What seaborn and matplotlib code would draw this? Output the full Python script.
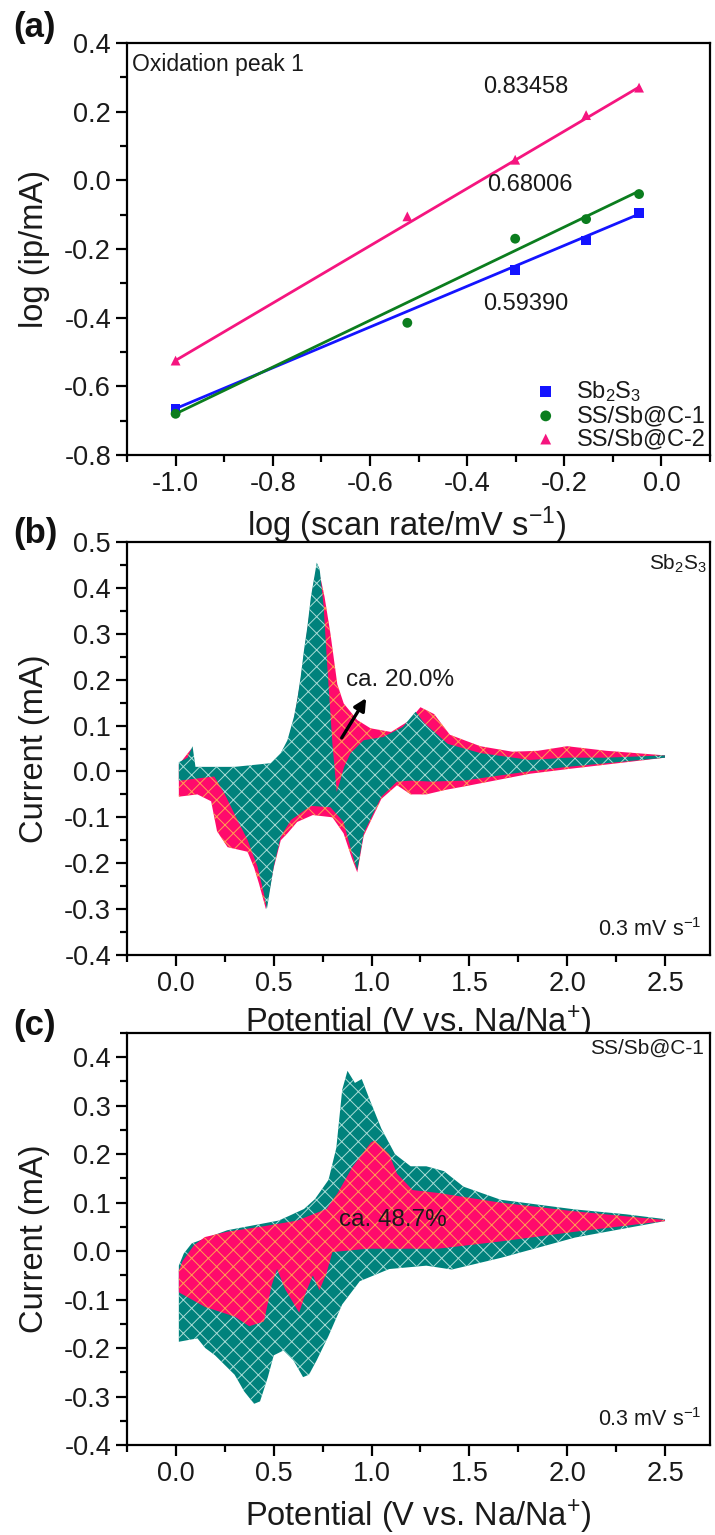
import numpy as np
import pandas as pd
import matplotlib
matplotlib.use("Agg")
import matplotlib.pyplot as plt
import seaborn as sns

# ---------------- data ----------------
# (a) log(ip) vs log(scan rate)
log_rate = [-1.0, -0.523, -0.301, -0.155, -0.046]
sb2s3_x = [-1.0, -0.301, -0.155, -0.046]
sb2s3_y = [-0.665, -0.262, -0.175, -0.095]
c1_y = [-0.68, -0.415, -0.17, -0.113, -0.04]
c2_y = [-0.525, -0.105, 0.06, 0.19, 0.27]
fit_slopes = [0.59390, 0.68006, 0.83458]
fit_intercepts = [-0.071, 0.0, 0.31]
fit_range = [-1.0, -0.046]
slope_labels = ["0.59390", "0.68006", "0.83458"]

# (b) Sb2S3 CV at 0.3 mV/s: total (pink) and capacitive (teal)
b_pink_up_v = [0.015, 0.08, 0.1, 0.3, 0.48, 0.536, 0.57, 0.604, 0.638, 0.672, 0.70, 0.72, 0.74, 0.76, 0.79,
               0.825, 0.858, 0.927, 0.995, 1.10, 1.19, 1.25, 1.32, 1.40, 1.556, 1.72, 1.85, 2.0, 2.2, 2.5]
b_pink_up_i = [0.015, 0.05, 0.0, 0.005, 0.015, 0.035, 0.063, 0.115, 0.2, 0.31, 0.40, 0.445, 0.42, 0.38, 0.30,
               0.19, 0.148, 0.112, 0.094, 0.086, 0.11, 0.14, 0.125, 0.08, 0.055, 0.043, 0.045, 0.055, 0.045, 0.035]
b_pink_lo_v = [0.015, 0.11, 0.18, 0.21, 0.264, 0.366, 0.40, 0.425, 0.46, 0.50, 0.536, 0.57, 0.62, 0.70, 0.80,
               0.857, 0.90, 0.927, 0.96, 1.05, 1.13, 1.20, 1.28, 1.38, 1.47, 1.81, 2.0, 2.5]
b_pink_lo_i = [-0.055, -0.05, -0.065, -0.13, -0.165, -0.175, -0.21, -0.245, -0.30, -0.21, -0.15, -0.135, -0.11,
               -0.095, -0.10, -0.135, -0.19, -0.22, -0.14, -0.06, -0.03, -0.05, -0.05, -0.04, -0.033, -0.005, 0.005, 0.03]
b_teal_up_v = [0.015, 0.06, 0.085, 0.1, 0.3, 0.485, 0.536, 0.57, 0.604, 0.62, 0.638, 0.655, 0.672, 0.69, 0.72,
               0.735, 0.755, 0.775, 0.80, 0.822, 0.84, 0.86, 0.893, 0.96, 1.06, 1.16, 1.225, 1.27, 1.39, 1.556,
               1.81, 2.0, 2.2, 2.5]
b_teal_up_i = [0.02, 0.03, 0.055, 0.01, 0.01, 0.018, 0.04, 0.068, 0.12, 0.156, 0.207, 0.265, 0.315, 0.38, 0.455,
               0.44, 0.36, 0.22, 0.06, -0.045, -0.02, 0.01, 0.04, 0.068, 0.075, 0.097, 0.13, 0.105, 0.06, 0.04,
               0.025, 0.03, 0.03, 0.035]
b_teal_lo_v = [0.015, 0.196, 0.247, 0.315, 0.366, 0.417, 0.45, 0.465, 0.50, 0.536, 0.587, 0.69, 0.79, 0.857,
               0.90, 0.927, 0.96, 1.05, 1.13, 1.20, 1.30, 1.47, 1.80, 2.0, 2.5]
b_teal_lo_i = [-0.02, -0.011, -0.047, -0.106, -0.149, -0.207, -0.266, -0.30, -0.207, -0.142, -0.106, -0.075,
               -0.078, -0.11, -0.178, -0.215, -0.134, -0.055, -0.022, -0.02, -0.022, -0.02, 0.0, 0.01, 0.03]

# (c) SS/Sb@C-1 CV at 0.3 mV/s: total (teal) and capacitive (pink)
c_teal_up_v = [0.015, 0.04, 0.081, 0.262, 0.525, 0.58, 0.655, 0.71, 0.78, 0.82, 0.85, 0.877, 0.915, 0.95,
               0.99, 1.05, 1.12, 1.20, 1.28, 1.37, 1.47, 1.66, 2.04, 2.3, 2.5]
c_teal_up_i = [-0.03, -0.005, 0.016, 0.043, 0.063, 0.073, 0.087, 0.107, 0.147, 0.213, 0.333, 0.372, 0.347,
               0.355, 0.313, 0.253, 0.20, 0.175, 0.175, 0.165, 0.133, 0.106, 0.086, 0.076, 0.066]
c_teal_lo_v = [0.015, 0.11, 0.15, 0.2, 0.25, 0.3, 0.35, 0.4, 0.43, 0.47, 0.5, 0.55, 0.6, 0.65, 0.68, 0.72,
               0.78, 0.85, 0.94, 1.09, 1.28, 1.41, 1.66, 2.04, 2.5]
c_teal_lo_i = [-0.187, -0.18, -0.2, -0.215, -0.235, -0.255, -0.29, -0.315, -0.31, -0.26, -0.215, -0.205,
               -0.225, -0.26, -0.255, -0.225, -0.175, -0.11, -0.062, -0.037, -0.03, -0.038, -0.014, 0.028, 0.062]
c_pink_up_v = [0.015, 0.035, 0.092, 0.148, 0.262, 0.43, 0.62, 0.77, 0.827, 0.903, 0.997, 1.015, 1.09, 1.13,
               1.21, 1.34, 1.66, 2.04, 2.5]
c_pink_up_i = [-0.04, -0.02, 0.012, 0.029, 0.04, 0.05, 0.063, 0.087, 0.12, 0.174, 0.224, 0.228, 0.20, 0.16,
               0.126, 0.12, 0.1, 0.082, 0.064]
c_pink_lo_v = [0.015, 0.148, 0.30, 0.375, 0.45, 0.49, 0.517, 0.56, 0.63, 0.66, 0.70, 0.734, 0.77, 0.80, 0.98,
               1.34, 1.66, 2.04, 2.5]
c_pink_lo_i = [-0.085, -0.115, -0.135, -0.155, -0.145, -0.07, -0.037, -0.08, -0.127, -0.09, -0.05, -0.081,
               -0.045, -0.002, 0.005, 0.005, 0.02, 0.04, 0.062]

# ---------------- style ----------------
sns.set_theme(style="ticks")
plt.rcParams["font.family"] = ["Liberation Sans", "DejaVu Sans"]
plt.rcParams["mathtext.fontset"] = "custom"
plt.rcParams["mathtext.rm"] = "Liberation Sans"
plt.rcParams["mathtext.it"] = "Liberation Sans:italic"
plt.rcParams["hatch.linewidth"] = 0.7
plt.rcParams["axes.linewidth"] = 1.6

TXT = "#1a1a1a"
BLUE = "#1414ff"
GREEN = "#0b7d1e"
PINK = "#f5157f"
TEAL = "#00827c"
HOTPINK = "#ff0a6c"
TICK_FS = 19.5
LABEL_FS = 23.5

fig = plt.figure(figsize=(7.15, 15.35), dpi=100)
W = 715.0
H = 1535.0

def make_ax(top_px, bot_px, left_px=127, right_px=710):
    return fig.add_axes([left_px / W, 1 - bot_px / H, (right_px - left_px) / W, (bot_px - top_px) / H])

ax_a = make_ax(43, 455)
ax_b = make_ax(542, 955)
ax_c = make_ax(1033, 1445)

def fmt(vals):
    return [f"{np.round(v, 2) + 0.0:.1f}" for v in vals]

def style_ax(ax):
    for s in ["top", "right", "left", "bottom"]:
        ax.spines[s].set_visible(True)
        ax.spines[s].set_linewidth(1.6)
        ax.spines[s].set_color("black")
    ax.tick_params(which="both", direction="out", top=False, right=False, width=1.6, colors="black",
                   labelcolor=TXT, labelsize=TICK_FS, pad=3.5)
    ax.tick_params(which="major", length=8)
    ax.tick_params(which="minor", length=5)
    ax.grid(False)

# ---------------- (a) ----------------
df_pts = pd.concat([
    pd.DataFrame({"x": sb2s3_x, "y": sb2s3_y, "s": "Sb2S3"}),
    pd.DataFrame({"x": log_rate, "y": c1_y, "s": "SS/Sb@C-1"}),
    pd.DataFrame({"x": log_rate, "y": c2_y, "s": "SS/Sb@C-2"}),
])
colors = [BLUE, GREEN, PINK]
markers = ["s", "o", "^"]
names = ["Sb2S3", "SS/Sb@C-1", "SS/Sb@C-2"]
labels = ["Sb$_2$S$_3$", "SS/Sb@C-1", "SS/Sb@C-2"]
xr = np.array(fit_range)
for k in range(3):
    fit_df = pd.DataFrame({"x": xr, "y": fit_slopes[k] * xr + fit_intercepts[k]})
    sns.lineplot(data=fit_df, x="x", y="y", ax=ax_a, color=colors[k], linewidth=2.0, legend=False, zorder=2)
for k in range(3):
    sub = df_pts[df_pts["s"] == names[k]]
    sns.scatterplot(data=sub, x="x", y="y", ax=ax_a, color=colors[k], marker=markers[k], s=50,
                    edgecolor="none", label=labels[k], zorder=3)
ax_a.set_xlim(-1.1, 0.092)
ax_a.set_ylim(-0.8, 0.4)
xt_a = np.arange(-1.0, 0.01, 0.2)
yt_a = np.arange(-0.8, 0.41, 0.2)
ax_a.set_xticks(xt_a)
ax_a.set_xticks(np.arange(-1.1, 0.1, 0.1), minor=True)
ax_a.set_yticks(yt_a)
ax_a.set_yticks(np.arange(-0.8, 0.41, 0.1), minor=True)
ax_a.set_xticklabels(fmt(xt_a))
ax_a.set_yticklabels(fmt(yt_a))
style_ax(ax_a)
ax_a.set_xlabel("log (scan rate/mV s$^{-1}$)", fontsize=LABEL_FS, color=TXT)
ax_a.set_ylabel("log (ip/mA)", fontsize=LABEL_FS, color=TXT, va="center")
ax_a.xaxis.set_label_coords(0.48, -0.121)
ax_a.yaxis.set_label_coords(-0.158, 0.5)
leg = ax_a.legend(loc="lower right", frameon=False, fontsize=17, handletextpad=0.9, labelspacing=0.05,
                  borderaxespad=0.1, borderpad=0.1, handlelength=0.8, markerscale=1.1)
for t in leg.get_texts():
    t.set_color(TXT)
ax_a.text(0.009, 0.976, "Oxidation peak 1", transform=ax_a.transAxes, ha="left", va="top",
          fontsize=16.5, color=TXT)
slope_pos = [(-0.28, -0.36), (-0.27, -0.015), (-0.28, 0.272)]
for (px, py), lab in zip(slope_pos, slope_labels):
    ax_a.text(px, py, lab, ha="center", va="center", fontsize=17, color=TXT)

# ---------------- (b) ----------------
def cv_fill(ax, up_v, up_i, lo_v, lo_i, face, hatchc, z):
    xs = list(up_v) + list(lo_v)[::-1]
    ys = list(up_i) + list(lo_i)[::-1]
    ax.fill(xs, ys, facecolor=face, edgecolor=hatchc, hatch="xx", linewidth=0, zorder=z)

cv_fill(ax_b, b_pink_up_v, b_pink_up_i, b_pink_lo_v, b_pink_lo_i, HOTPINK, "#ffa050", 1)
cv_fill(ax_b, b_teal_up_v, b_teal_up_i, b_teal_lo_v, b_teal_lo_i, TEAL, "#a8dcd6", 2)

xt_v = np.arange(0, 2.51, 0.5)
for ax in (ax_b, ax_c):
    ax.set_xlim(-0.25, 2.73)
    ax.set_xticks(xt_v)
    ax.set_xticks(np.arange(-0.25, 2.74, 0.25), minor=True)
    ax.set_xticklabels(fmt(xt_v))
    style_ax(ax)
    ax.set_xlabel("Potential (V vs. Na/Na$^{+}$)", fontsize=LABEL_FS, color=TXT)
    ax.set_ylabel("Current (mA)", fontsize=LABEL_FS, color=TXT, va="center")
    ax.yaxis.set_label_coords(-0.158, 0.5)

ax_b.set_ylim(-0.4, 0.5)
yt_b = np.arange(-0.4, 0.51, 0.1)
ax_b.set_yticks(yt_b)
ax_b.set_yticks(np.arange(-0.4, 0.51, 0.05), minor=True)
ax_b.set_yticklabels(fmt(yt_b))
ax_b.xaxis.set_label_coords(0.5, -0.118)
ax_b.text(0.995, 0.975, "Sb$_2$S$_3$", transform=ax_b.transAxes, ha="right", va="top", fontsize=15, color=TXT)
ax_b.text(0.985, 0.035, "0.3 mV s$^{-1}$", transform=ax_b.transAxes, ha="right", va="bottom", fontsize=15.5,
          color=TXT)
ax_b.annotate("", xy=(0.98, 0.165), xytext=(0.84, 0.068),
              arrowprops=dict(arrowstyle="-|>", color="black", lw=2.4, mutation_scale=18), zorder=5)
ax_b.text(0.87, 0.20, "ca. 20.0%", ha="left", va="center", fontsize=17.5, color=TXT, zorder=5)

# ---------------- (c) ----------------
cv_fill(ax_c, c_teal_up_v, c_teal_up_i, c_teal_lo_v, c_teal_lo_i, TEAL, "#a8dcd6", 1)
cv_fill(ax_c, c_pink_up_v, c_pink_up_i, c_pink_lo_v, c_pink_lo_i, HOTPINK, "#ffa050", 2)
ax_c.set_ylim(-0.4, 0.45)
yt_c = np.arange(-0.4, 0.41, 0.1)
ax_c.set_yticks(yt_c)
ax_c.set_yticks(np.arange(-0.4, 0.451, 0.05), minor=True)
ax_c.set_yticklabels(fmt(yt_c))
ax_c.xaxis.set_label_coords(0.5, -0.128)
ax_c.text(0.99, 0.985, "SS/Sb@C-1", transform=ax_c.transAxes, ha="right", va="top", fontsize=15, color=TXT)
ax_c.text(0.985, 0.035, "0.3 mV s$^{-1}$", transform=ax_c.transAxes, ha="right", va="bottom", fontsize=15.5,
          color=TXT)
ax_c.text(1.11, 0.065, "ca. 48.7%", ha="center", va="center", fontsize=17.5, color=TXT, zorder=5)

# ---------------- panel letters ----------------
for lab, ypx in [("(a)", 28), ("(b)", 533), ("(c)", 1025)]:
    fig.text(13 / W, 1 - ypx / H, lab, ha="left", va="center", fontsize=25, fontweight="bold", color="#111111")

fig.savefig("out.png", dpi=100)
